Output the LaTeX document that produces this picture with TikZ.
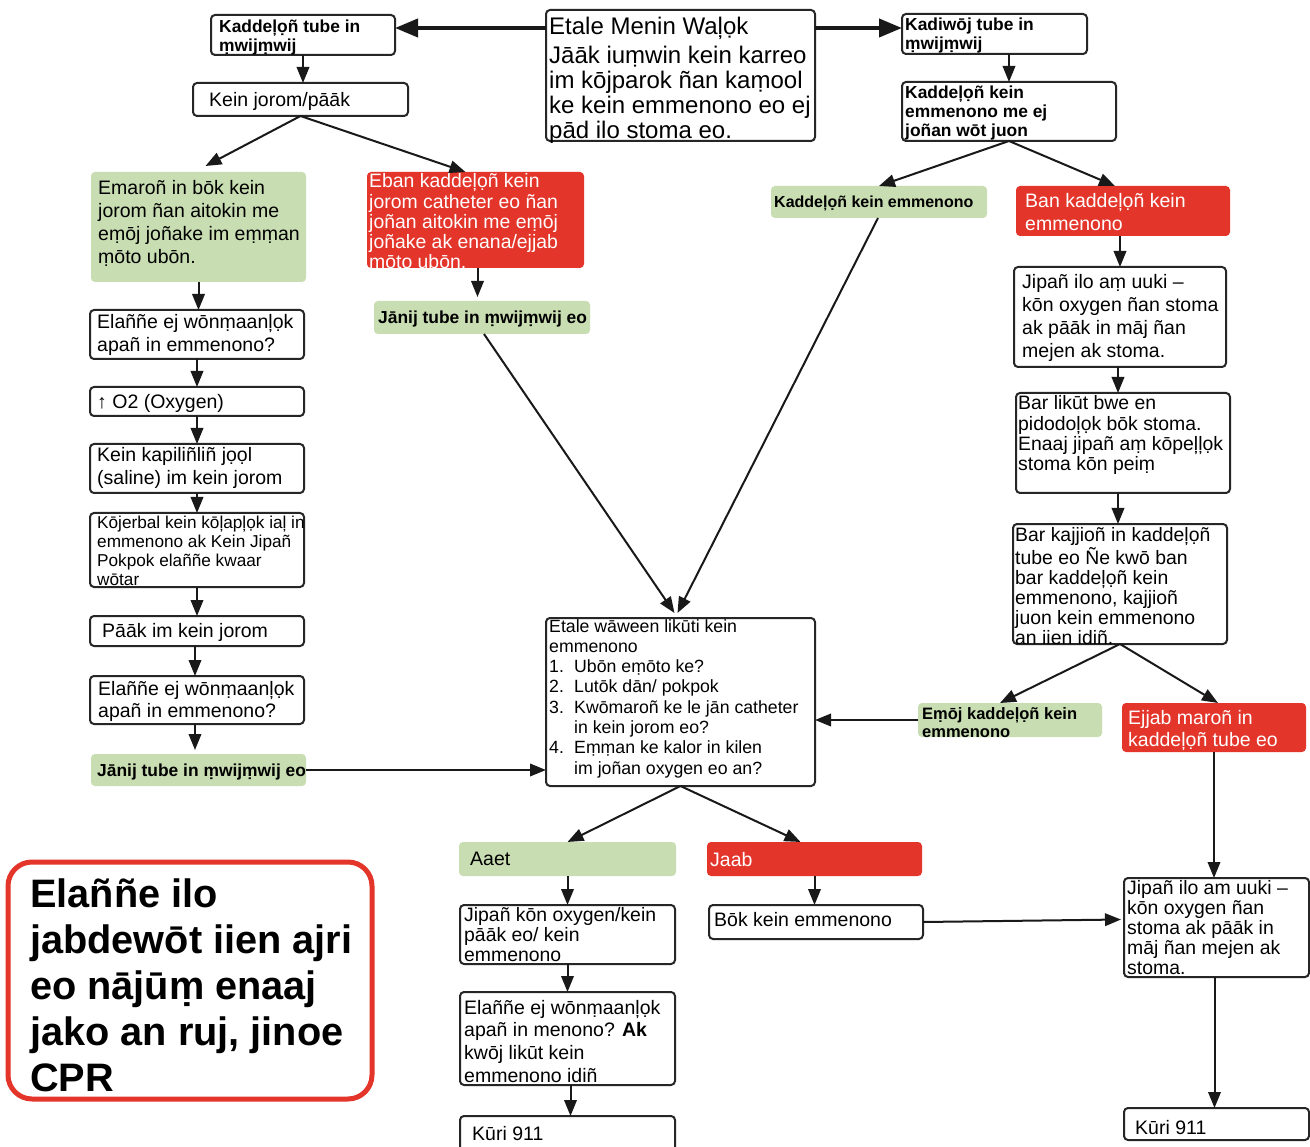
\documentclass[tikz,border=0pt]{standalone}
\usepackage{fontspec}
\setmainfont{Liberation Sans}
\usetikzlibrary{arrows.meta,calc}
\definecolor{gfill}{RGB}{200,221,177}
\definecolor{rfill}{RGB}{228,53,43}
\newcommand\ftReg{\fontsize{19.5}{22.7}\selectfont}
\newcommand\ftTight{\fontsize{19.4}{20}\selectfont}
\newcommand\ftBold{\fontsize{17.4}{19}\selectfont\bfseries}
\newcommand\ftBoldS{\fontsize{16}{18}\selectfont\bfseries}
\newcommand\ftBoldM{\fontsize{16.5}{18}\selectfont\bfseries}
\newcommand\ftSmall{\fontsize{17.2}{19}\selectfont}
\newcommand\ftCen{\fontsize{17.7}{20.3}\selectfont}
\newcommand\ftTop{\fontsize{24}{24.4}\selectfont}
\newcommand\ftBig{\fontsize{39.7}{46}\selectfont\bfseries}
\newcommand\lines[1]{\begin{tabular}[t]{@{}l@{}}#1\end{tabular}}
\newcommand\mkbox[6]{\node[#6, minimum width={#4-#2}, minimum height={#5-#3}] (#1) at ({(#2+#4)/2},{(#3+#5)/2}) {};}
\tikzset{
 box/.style={draw=black!85, line width=2pt, rounded corners=4pt, fill=white, inner sep=0pt, outer sep=0pt},
 gbox/.style={fill=gfill, rounded corners=4pt, inner sep=0pt, outer sep=0pt},
 rbox/.style={fill=rfill, rounded corners=4pt, inner sep=0pt, outer sep=0pt},
 txt/.style={anchor=base west, inner sep=0pt, font=\ftReg},
 arr/.style={line width=2pt, draw=black!90, -{Triangle[length=16pt,width=12.5pt]}},
 bigarr/.style={line width=4pt, draw=black!90, -{Triangle[length=23pt,width=18pt]}},
}
\begin{document}
\begin{tikzpicture}[x={(1pt,0)}, y={(0,-1pt)}]
\fill[white] (0,0) rectangle (1310,1147);
\useasboundingbox (0,0) rectangle (1310,1147);
% ---------- boxes ----------
\mkbox{main}{546}{10}{815}{141}{box}
\mkbox{tl}{211}{15}{395}{55}{box}
\mkbox{tr}{902}{14}{1087}{54}{box}
\mkbox{jorom}{193}{83}{408}{116}{box}
\mkbox{kdr}{902}{82}{1116}{141}{box}
\mkbox{g1}{91}{172}{306}{282}{gbox}
\mkbox{r1}{367}{172}{584}{268}{rbox}
\mkbox{g2}{374}{301}{590}{334}{gbox}
\mkbox{L1}{90}{310}{304}{359}{box}
\mkbox{L2}{90}{387}{304}{416}{box}
\mkbox{L3}{90}{444}{304}{493}{box}
\mkbox{L4}{90}{513}{304}{587}{box}
\mkbox{L5}{90}{616}{304}{646}{box}
\mkbox{L6}{90}{676}{304}{724}{box}
\mkbox{g3}{91}{754}{306}{786}{gbox}
\mkbox{C}{546}{618}{815}{786}{box}
\mkbox{gK}{771}{186}{987}{218}{gbox}
\mkbox{rB}{1016}{186}{1230}{236}{rbox}
\mkbox{R1}{1014}{267}{1226}{367}{box}
\mkbox{R2}{1016}{393}{1230}{493}{box}
\mkbox{R3}{1013}{524}{1227}{644}{box}
\mkbox{gE}{918}{703}{1102}{737}{gbox}
\mkbox{rE}{1122}{703}{1306}{752}{rbox}
\mkbox{R4}{1124}{878}{1309}{977}{box}
\mkbox{R5}{1124}{1108}{1309}{1140}{box}
\mkbox{gA}{459}{842}{676}{876}{gbox}
\mkbox{rJ}{707}{842}{922}{876}{rbox}
\mkbox{B1}{460}{905}{675}{964}{box}
\mkbox{B2}{709}{905}{923}{939}{box}
\mkbox{B3}{460}{992}{675}{1085}{box}
\mkbox{B4}{460}{1116}{675}{1160}{box}
\node[draw=rfill, line width=5pt, rounded corners=24pt, fill=white, inner sep=0pt, minimum width=364pt, minimum height=237pt] (cpr) at (190,980.5) {};
% ---------- texts ----------
\node[txt, font=\ftTop] (main-t1) at (549,35) {Etale Menin Waļọk};
\node[txt, font=\ftTop] (main-t2) at (549,64) {\lines{Jāāk iuṃwin kein karreo\\im kōjparok ñan kaṃool\\ke kein emmenono eo ej\\pād ilo stoma eo.}};
\node[txt, font=\ftBold] (tl-t) at (219,33) {\lines{Kaddeļọñ tube in\\ṃwijṃwij}};
\node[txt, font=\ftBold] (tr-t) at (905,31) {\lines{Kadiwōj tube in\\ṃwijṃwij}};
\node[txt] (jorom-t) at (209,107) {Kein jorom/pāāk};
\node[txt, font=\ftBold] (kdr-t) at (905,99) {\lines{Kaddeļọñ kein\\emmenono me ej\\joñan wōt juon}};
\node[txt] (g1-t) at (98,195) {\lines{Emaroñ in bōk kein\\jorom ñan aitokin me\\eṃōj joñake im eṃṃan\\ṃōto ubōn.}};
\node[txt, font=\ftTight, text=white] (r1-t) at (369,188) {\lines{Eban kaddeļọñ kein\\jorom catheter eo ñan\\joñan aitokin me eṃōj\\joñake ak enana/ejjab\\ṃōto ubōn.}};
\node[txt, font=\ftBold] (g2-t) at (378,324) {Jānij tube in ṃwijṃwij eo};
\node[txt] (L1-t) at (97,329) {\lines{Elaññe ej wōnṃaanļọk\\apañ in emmenono?}};
\node[txt] (L2-t) at (97,409) {↑ O2 (Oxygen)};
\node[txt] (L3-t) at (97,462) {\lines{Kein kapiliñliñ jọọl\\(saline) im kein jorom}};
\node[txt, font=\ftSmall] (L4-t) at (97,529) {\lines{Kōjerbal kein kōļapļọk iaļ in\\emmenono ak Kein Jipañ\\Pokpok elaññe kwaar\\wōtar}};
\node[txt] (L5-t) at (102,637) {Pāāk im kein jorom};
\node[txt] (L6-t) at (98,695) {\lines{Elaññe ej wōnṃaanļọk\\apañ in emmenono?}};
\node[txt, font=\ftBold] (g3-t) at (97,776) {Jānij tube in ṃwijṃwij eo};
\node[txt, font=\ftCen] (C-t) at (549,632) {\lines{Etale wāween likūti kein\\emmenono\\\makebox[25pt][l]{1.}Ubōn eṃōto ke?\\\makebox[25pt][l]{2.}Lutōk dān/ pokpok\\\makebox[25pt][l]{3.}Kwōmaroñ ke le jān catheter\\\hspace*{25pt}in kein jorom eo?\\\makebox[25pt][l]{4.}Eṃṃan ke kalor in kilen\\\hspace*{25pt}im joñan oxygen eo an?}};
\node[txt, font=\ftBoldS] (gK-t) at (774,208) {Kaddeļọñ kein emmenono};
\node[txt, text=white] (rB-t) at (1025,208) {\lines{Ban kaddeļọñ kein\\emmenono}};
\node[txt] (R1-t) at (1022,289) {\lines{Jipañ ilo aṃ uuki –\\kōn oxygen ñan stoma\\ak pāāk in māj ñan\\mejen ak stoma.}};
\node[txt, font=\ftTight] (R2-t) at (1018,410) {\lines{Bar likūt bwe en\\pidodoļọk bōk stoma.\\Enaaj jipañ aṃ kōpeļļọk\\stoma kōn peiṃ}};
\node[txt, font=\ftTight] (R3-t) at (1015,541) {\lines{Bar kajjioñ in kaddeļọñ\\tube eo Ñe kwō ban\\bar kaddeļọñ kein\\emmenono, kajjioñ\\juon kein emmenono\\an iien idiñ.}};
\node[txt, font=\ftBoldM] (gE-t) at (922,719) {\lines{Eṃōj kaddeļọñ kein\\emmenono}};
\node[txt, text=white] (rE-t) at (1128,724) {\lines{Ejjab maroñ in\\kaddeļọñ tube eo}};
\node[txt, font=\ftTight] (R4-t) at (1127,894) {\lines{Jipañ ilo am uuki –\\kōn oxygen ñan\\stoma ak pāāk in\\māj ñan mejen ak\\stoma.}};
\node[txt] (R5-t) at (1135,1134) {Kūri 911};
\node[txt] (gA-t) at (470,865) {Aaet};
\node[txt, text=white] (rJ-t) at (710,866) {Jaab};
\node[txt, font=\ftTight] (B1-t) at (464,921) {\lines{Jipañ kōn oxygen/kein\\pāāk eo/ kein\\emmenono}};
\node[txt] (B2-t) at (714,926) {Bōk kein emmenono};
\node[txt] (B3-t) at (464,1014) {\lines{Elaññe ej wōnṃaanļọk\\apañ in menono? \textbf{Ak}\\kwōj likūt kein\\emmenono idiñ}};
\node[txt] (B4-t) at (472,1140) {Kūri 911};
\node[txt, font=\ftBig] (cpr-t) at (30,907) {\lines{Elaññe ilo\\jabdewōt iien ajri\\eo nājūṃ enaaj\\jako an ruj, jinoe\\CPR}};
% ---------- helper coordinates ----------
\coordinate (r1s) at ([xshift=2pt]r1.south);
\coordinate (b3s) at ([xshift=3pt]B3.south);
\coordinate (r1b) at ([xshift=-2pt]R1.south);
\coordinate (r2b) at ([xshift=-5pt]R2.south);
\coordinate (r4b) at ([xshift=-2pt]R4.south);
\coordinate (l5b) at ([xshift=-2pt]L5.south);
\coordinate (l6b) at ([xshift=-2pt]L6.south);
% ---------- connectors ----------
\draw[bigarr] ([yshift=-18pt]main.north west) -- ([yshift=-18pt]main.north west -| tl.east);
\draw[bigarr] ([yshift=-18pt]main.north east) -- ([yshift=-18pt]main.north east -| tr.west);
\draw[arr] (tl.south) -- (tl.south |- jorom.north);
\draw[arr] (kdr.north |- tr.south) -- (kdr.north);
\draw[arr] (jorom.south) -- ($(g1.north)+(7,-6)$);
\draw[arr] (jorom.south) -- ($(r1.north)+(-10,0)$);
\draw[arr] (kdr.south) -- (gK.north);
\draw[arr] (kdr.south) -- ($(rB.north)+(-8,0)$);
\draw[arr] (g1.south) -- (g1.south |- L1.north);
\draw[arr] (L1.south) -- (L2.north);
\draw[arr] (L2.south) -- (L3.north);
\draw[arr] (L3.south) -- (L4.north);
\draw[arr] (L4.south) -- (L5.north);
\draw[arr] (l5b) -- (l5b |- L6.north);
\draw[arr] (l6b) -- ($(l6b |- g3.north)+(0,-4)$);
\draw[arr] (g3.east) -- (g3.east -| C.west);
\draw[arr] (r1s) -- ($(r1s |- g2.north)+(0,-4)$);
\draw[arr] ($(g2.south)+(2,0)$) -- ($(C.north)+(-6,-5)$);
\draw[arr] ($(gK.south)+(-1,0)$) -- ($(C.north)+(-3,-5)$);
\draw[arr] (gE.west) -- (gE.west -| C.east);
\draw[arr] (C.south) -- (gA.north);
\draw[arr] (C.south) -- ($(rJ.north)+(-14,0)$);
\draw[arr] (gA.south) -- (gA.south |- B1.north);
\draw[arr] (rJ.south) -- (rJ.south |- B2.north);
\draw[arr] (B1.south) -- (B1.south |- B3.north);
\draw[arr] (b3s) -- (b3s |- B4.north);
\draw[arr] (B2.east) -- ($(R4.west)+(-3,-8)$);
\draw[arr] ($(R1.north)+(0,-31)$) -- (R1.north);
\draw[arr] (r1b) -- (r1b |- R2.north);
\draw[arr] (r2b) -- (r2b |- R3.north);
\draw[arr] (R3.south) -- ($(gE.north)+(-10,0)$);
\draw[arr] (R3.south) -- ($(rE.north)+(4,0)$);
\draw[arr] (rE.south) -- (rE.south |- R4.north);
\draw[arr] (r4b) -- (r4b |- R5.north);
\end{tikzpicture}
\end{document}
